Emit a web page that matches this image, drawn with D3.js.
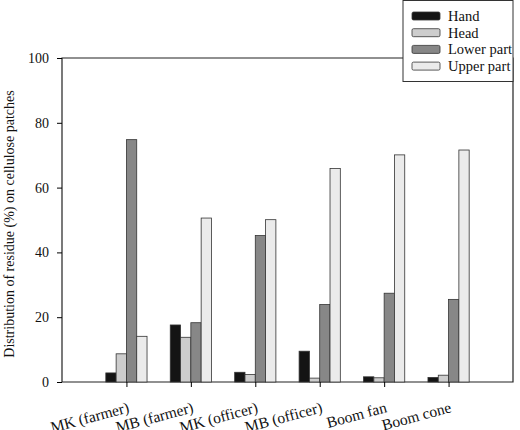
<!DOCTYPE html><html><head><meta charset="utf-8"><script src="https://cdn.jsdelivr.net/npm/d3@7"></script>
<style>body{margin:0;background:#fff}text{font-family:"Liberation Serif","Times New Roman",serif;fill:#111}</style></head><body>
<svg id="c" width="520" height="430"></svg>
<script>
const categories=["MK (farmer)","MB (farmer)","MK (officer)","MB (officer)","Boom fan","Boom cone"];
const seriesNames=["Hand","Head","Lower part","Upper part"];
const hand=[2.8,17.6,3.0,9.5,1.6,1.4];
const head=[8.7,13.8,2.3,1.2,1.3,2.1];
const lower=[74.8,18.3,45.2,23.9,27.4,25.5];
const upper=[14.1,50.6,50.1,65.9,70.1,71.6];
const yTicks=[0,20,40,60,80,100];
const colors=["#141414","#cdcdcd","#878787","#ebebeb"];
const series=[hand,head,lower,upper];
const svg=d3.select("#c");
const L=62,R=513,T=58,B=382;
const x=d3.scaleLinear().domain([0,7.0]).range([L,R]);
const y=d3.scaleLinear().domain([0,100]).range([B,T]);
const bw=10.3;
svg.append("path").attr("d",`M${L},${B}V${T}H${R}V${B}Z`).attr("fill","none").attr("stroke","#222").attr("stroke-width",1.2);
series.forEach((s,si)=>{
 svg.append("g").selectAll("rect").data(s).join("rect")
  .attr("x",(d,i)=>x(i+1)+(si-2)*bw).attr("width",bw)
  .attr("y",d=>y(d)).attr("height",d=>B-y(d))
  .attr("fill",colors[si]).attr("stroke","#333").attr("stroke-width",0.8);
});
const ya=svg.append("g").attr("transform",`translate(${L},0)`).call(d3.axisLeft(y).tickValues(yTicks).tickSize(5).tickSizeOuter(0));
ya.select(".domain").remove();
ya.selectAll("text").attr("font-size",14).attr("x",-13);
const xa=svg.append("g").attr("transform",`translate(0,${B})`).call(d3.axisBottom(x).tickValues(d3.range(1,7)).tickSize(5).tickSizeOuter(0).tickFormat(i=>categories[i-1]));
xa.select(".domain").remove();
xa.selectAll("text").attr("font-size",15.5).attr("text-anchor","end").attr("dy",0).attr("y",0)
 .attr("transform","translate(3,30) rotate(-15)");
svg.append("text").attr("transform",`translate(14,${(T+B)/2+4}) rotate(-90)`).attr("text-anchor","middle").attr("font-size",14)
 .text("Distribution of residue (%) on cellulose patches");
const lg=svg.append("g");
lg.append("rect").attr("x",403).attr("y",0.5).attr("width",110).attr("height",81).attr("fill","#fff").attr("stroke","#333");
seriesNames.forEach((n,i)=>{
 const yy=16+i*16.7;
 lg.append("rect").attr("x",412).attr("y",yy-4).attr("width",28).attr("height",8).attr("rx",1.5).attr("fill",colors[i]).attr("stroke","#333").attr("stroke-width",0.8);
 lg.append("text").attr("x",448).attr("y",yy+5).attr("font-size",14.5).text(n);
});
</script></body></html>
